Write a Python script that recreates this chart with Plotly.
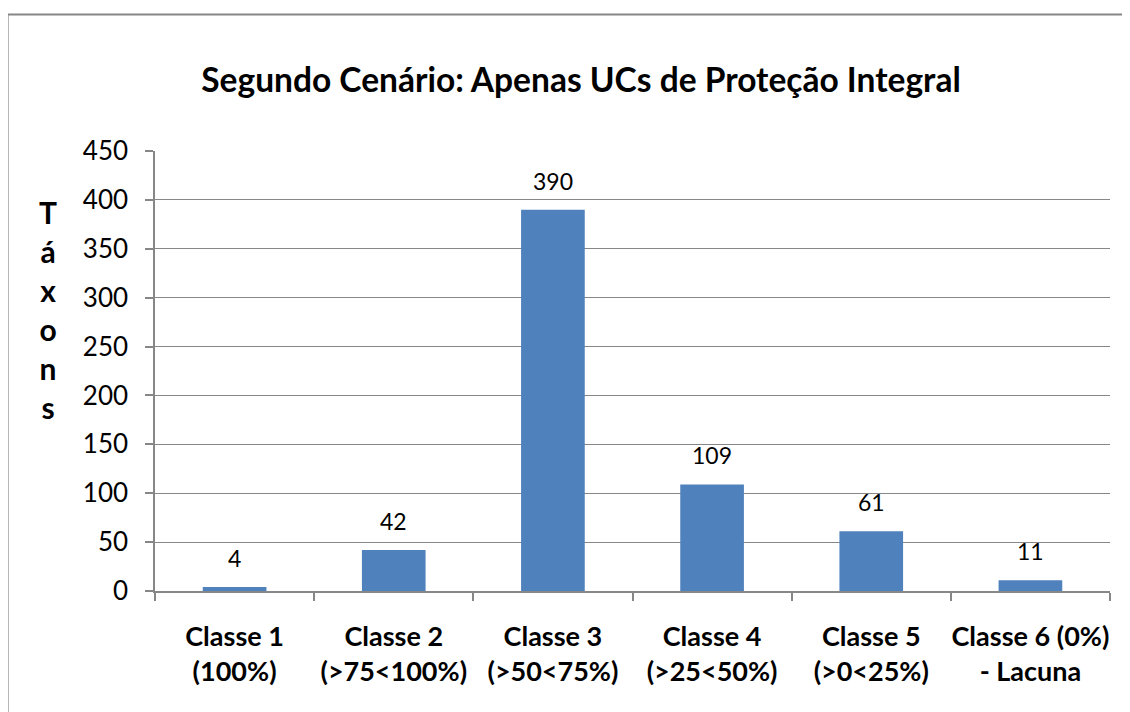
import plotly.graph_objects as go

categories = ["Classe 1<br>(100%)", "Classe 2<br>(>75<100%)", "Classe 3<br>(>50<75%)",
              "Classe 4<br>(>25<50%)", "Classe 5<br>(>0<25%)", "Classe 6 (0%)<br>- Lacuna"]
values = [4, 42, 390, 109, 61, 11]
y_ticks = [0, 50, 100, 150, 200, 250, 300, 350, 400, 450]
title_text = "Segundo Cenário: Apenas UCs de Proteção Integral"
y_title = "Táxons"

FONT = "Lato"
GRID = "#878787"
BAR = "#4F81BD"

W, H = 1122, 704
L, R, T, B = 147, 20, 143, 121
PW, PH = W - L - R, H - T - B

fig = go.Figure()
fig.add_trace(go.Bar(x=categories, y=values, marker=dict(color=BAR, line=dict(width=0)),
                     hoverinfo="x+y"))

for c, v in zip(categories, values):
    fig.add_annotation(x=c, y=v, text=str(v), showarrow=False, yanchor="bottom",
                       yshift=13, font=dict(family=FONT, size=23, color="black"))

fig.add_annotation(xref="paper", yref="paper", x=(29 - L) / PW, y=0.639,
                   text="<b>" + "<br>".join(list(y_title)) + "</b>", showarrow=False,
                   font=dict(family=FONT, size=30, color="black"), align="center")

fig.add_shape(type="rect", xref="paper", yref="paper",
              x0=(-0.5 - L) / PW, x1=(1140 - L) / PW,
              y0=-(B + 20) / PH, y1=(PH + T - 6.5) / PH,
              line=dict(color="#868686", width=2.2), layer="below")

fig.update_layout(
    width=W, height=H,
    margin=dict(l=L, r=R, t=T, b=B, autoexpand=False),
    paper_bgcolor="white", plot_bgcolor="white",
    bargap=0.6, showlegend=False,
    title=dict(text="<b>" + title_text + "</b>", x=573 / W, xanchor="center",
               y=1 - 72 / H, yanchor="middle", font=dict(family=FONT, size=33.5, color="black")),
    font=dict(family=FONT, color="black"),
)
fig.update_xaxes(showline=True, linecolor=GRID, linewidth=1.5, ticks="outside", ticklen=8,
                 tickcolor=GRID, tickwidth=1.5, tickson="boundaries", showgrid=False,
                 tickangle=0, automargin=False,
                 tickfont=dict(family=FONT, size=27, color="black"),
                 tickprefix="<b>", ticksuffix="</b>", ticklabelstandoff=21)
fig.update_yaxes(range=[0, 450], tickvals=y_ticks, showline=True, linecolor=GRID, linewidth=1.5,
                 ticks="outside", ticklen=8, tickcolor=GRID, tickwidth=1.5, automargin=False,
                 showgrid=True, gridcolor=GRID, gridwidth=1.3, zeroline=False,
                 tickfont=dict(family=FONT, size=26, color="black"), ticklabelstandoff=12)

fig.write_html("out.html")
